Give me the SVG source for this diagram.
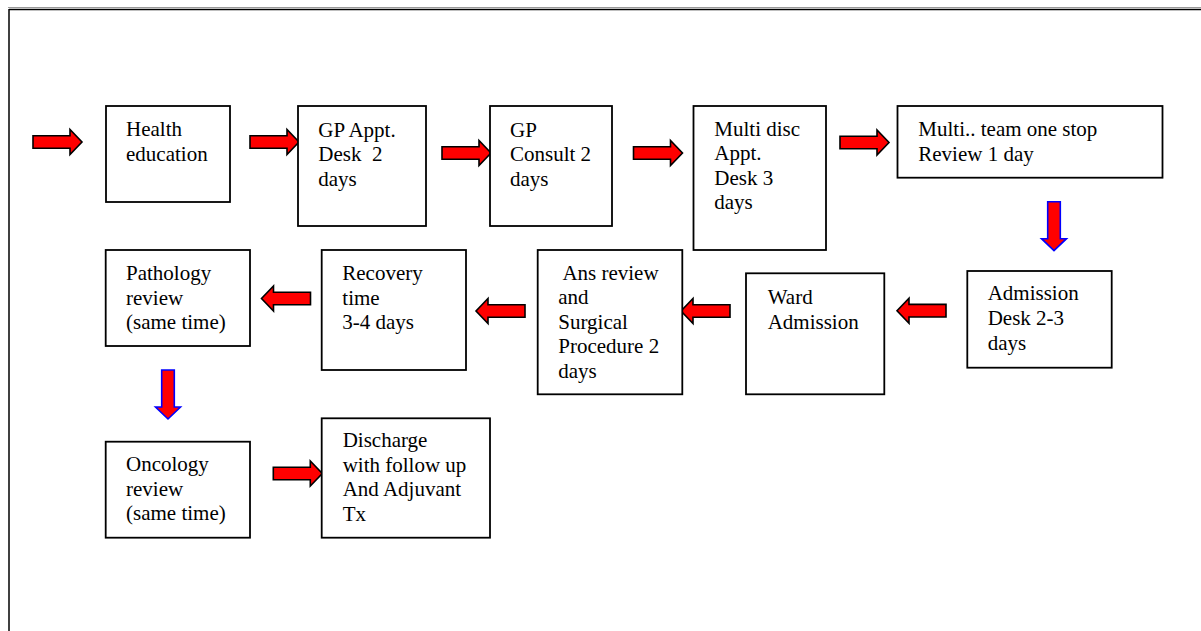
<svg xmlns="http://www.w3.org/2000/svg" xmlns:xlink="http://www.w3.org/1999/xlink" width="1201" height="631" viewBox="0 0 1201 631">
<style>
.box{fill:#fff;stroke:#000;stroke-width:1.8}
.t{font-family:'Liberation Serif','DejaVu Serif',serif;font-size:21px;fill:#000;white-space:pre}
.ar{fill:#f00;stroke:#000;stroke-width:1.6;stroke-linejoin:miter}
.ad{fill:#f00;stroke:#00f;stroke-width:1.6;stroke-linejoin:miter}
</style>
<defs>
<path id="arr" d="M0,-6.3 H37 V-12.5 L49,0 L37,12.5 V6.3 H0 Z"/>
</defs>
<rect width="1201" height="631" fill="#fff"/>
<g id="frame">
<line x1="8" y1="7.5" x2="1201" y2="7.5" stroke="#999" stroke-width="1"/>
<line x1="9" y1="9.5" x2="1201" y2="9.5" stroke="#000" stroke-width="1.5"/>
<line x1="9" y1="9" x2="9" y2="631" stroke="#000" stroke-width="1.5"/>
</g>
<g id="connectors">
<use xlink:href="#arr" class="ar" transform="translate(33,142)"/>
<use xlink:href="#arr" class="ar" transform="translate(250,142)"/>
<use xlink:href="#arr" class="ar" transform="translate(442,153)"/>
<use xlink:href="#arr" class="ar" transform="translate(633.5,153)"/>
<use xlink:href="#arr" class="ar" transform="translate(840,142.5)"/>
<use xlink:href="#arr" class="ad" transform="translate(1054,201.7) rotate(90)"/>
<use xlink:href="#arr" class="ar" transform="translate(946,310.7) rotate(180)"/>
<use xlink:href="#arr" class="ar" transform="translate(730,311) rotate(180)"/>
<use xlink:href="#arr" class="ar" transform="translate(525,311) rotate(180)"/>
<use xlink:href="#arr" class="ar" transform="translate(310.5,298.5) rotate(180)"/>
<use xlink:href="#arr" class="ad" transform="translate(168,370) rotate(90)"/>
<use xlink:href="#arr" class="ar" transform="translate(273.3,473.5)"/>
</g>
<g id="health">
<rect class="box" x="106" y="106" width="124" height="96"/>
<text class="t" x="126" y="135.7">Health</text>
<text class="t" x="126" y="160.7">education</text>
</g>
<g id="gp-appt">
<rect class="box" x="298" y="106" width="128" height="120"/>
<text class="t" x="318.3" y="136.5">GP Appt.</text>
<text class="t" x="318.3" y="161">Desk  2</text>
<text class="t" x="318.3" y="185.5">days</text>
</g>
<g id="gp-consult">
<rect class="box" x="490" y="106" width="122" height="120"/>
<text class="t" x="510" y="136.5">GP</text>
<text class="t" x="510" y="161">Consult 2</text>
<text class="t" x="510" y="185.5">days</text>
</g>
<g id="multi-disc">
<rect class="box" x="693.5" y="106" width="132.5" height="144"/>
<text class="t" x="714.3" y="135.7">Multi disc</text>
<text class="t" x="714.3" y="160.2">Appt.</text>
<text class="t" x="714.3" y="184.7">Desk 3</text>
<text class="t" x="714.3" y="209.2">days</text>
</g>
<g id="multi-team">
<rect class="box" x="897.5" y="106" width="265" height="71.7"/>
<text class="t" x="918.3" y="135.7">Multi.. team one stop</text>
<text class="t" x="918.3" y="160.7">Review 1 day</text>
</g>
<g id="admission">
<rect class="box" x="967.3" y="271" width="144.4" height="96.7"/>
<text class="t" x="987.7" y="300">Admission</text>
<text class="t" x="987.7" y="325">Desk 2-3</text>
<text class="t" x="987.7" y="350">days</text>
</g>
<g id="ward">
<rect class="box" x="746" y="273.3" width="138.3" height="121"/>
<text class="t" x="767.7" y="304">Ward</text>
<text class="t" x="767.7" y="329">Admission</text>
</g>
<g id="ans-review">
<rect class="box" x="537.7" y="250" width="144.6" height="144.3"/>
<text class="t" x="558.3" y="280"> Ans review</text>
<text class="t" x="558.3" y="304.4">and</text>
<text class="t" x="558.3" y="328.8">Surgical</text>
<text class="t" x="558.3" y="353.2">Procedure 2</text>
<text class="t" x="558.3" y="377.6">days</text>
</g>
<g id="recovery">
<rect class="box" x="321.7" y="250" width="144.3" height="120"/>
<text class="t" x="342.3" y="280">Recovery</text>
<text class="t" x="342.3" y="304.5">time</text>
<text class="t" x="342.3" y="329">3-4 days</text>
</g>
<g id="pathology">
<rect class="box" x="105.7" y="250" width="144.3" height="96"/>
<text class="t" x="126" y="280">Pathology</text>
<text class="t" x="126" y="304.5">review</text>
<text class="t" x="126" y="329">(same time)</text>
</g>
<g id="oncology">
<rect class="box" x="105.7" y="441.7" width="144.3" height="96"/>
<text class="t" x="126" y="471">Oncology</text>
<text class="t" x="126" y="495.5">review</text>
<text class="t" x="126" y="520">(same time)</text>
</g>
<g id="discharge">
<rect class="box" x="321.7" y="418.3" width="168.3" height="119.4"/>
<text class="t" x="342.7" y="447.3">Discharge</text>
<text class="t" x="342.7" y="471.8">with follow up</text>
<text class="t" x="342.7" y="496.3">And Adjuvant</text>
<text class="t" x="342.7" y="520.8">Tx</text>
</g>
</svg>
